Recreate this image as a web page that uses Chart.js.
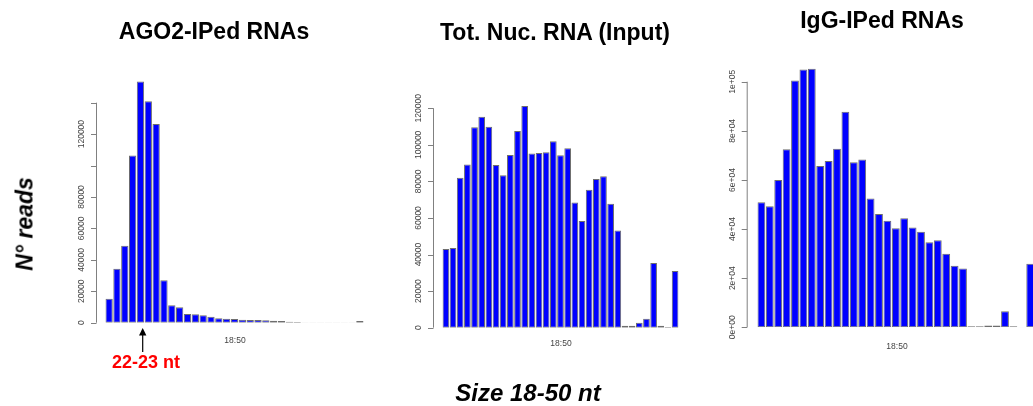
<!DOCTYPE html>
<html>
<head>
<meta charset="utf-8">
<script src="https://cdn.jsdelivr.net/npm/chart.js@4/dist/chart.umd.min.js"></script>
<style>
  html, body { margin: 0; padding: 0; background: #fff; overflow: hidden; width: 1033px; height: 406px; }
  canvas { position: absolute; left: 0; top: 0; }
  .txt { position: absolute; font-family: "Liberation Sans", Arial, sans-serif; line-height: 1; white-space: nowrap; }
  .title { font-size: 23px; font-weight: bold; color: #000; transform: translateX(-50%); }
  .xlab { font-size: 8.5px; color: #444; transform: translate(-50%, -50%); }
</style>
</head>
<body>
<canvas id="ago2Chart" width="1040" height="406"></canvas>
<canvas id="totChart" width="1040" height="406"></canvas>
<canvas id="iggChart" width="1040" height="406"></canvas>

<div class="txt title" style="left:214px; top:20px;">AGO2-IPed RNAs</div>
<div class="txt title" style="left:555px; top:20.5px;">Tot. Nuc. RNA (Input)</div>
<div class="txt title" style="left:882px; top:9px;">IgG-IPed RNAs</div>

<div class="txt xlab" style="left:235px; top:340px;">18:50</div>
<div class="txt xlab" style="left:561px; top:343px;">18:50</div>
<div class="txt xlab" style="left:897px; top:346px;">18:50</div>

<div class="txt" style="left:25px; top:224px; font-size:23px; font-weight:bold; font-style:italic; transform:translate(-50%,-50%) rotate(-90deg);">N° reads</div>
<div class="txt" style="left:528px; top:381px; font-size:24px; font-weight:bold; font-style:italic; transform:translateX(-50%);">Size 18-50 nt</div>
<div class="txt" style="left:146px; top:353px; font-size:18px; font-weight:bold; color:#ff0000; transform:translateX(-50%);">22-23 nt</div>

<svg style="position:absolute; left:0; top:0;" width="1033" height="406">
  <line x1="142.7" y1="334" x2="142.7" y2="352" stroke="#000" stroke-width="1.2"/>
  <polygon points="139,335.5 146.4,335.5 142.7,328" fill="#000"/>
</svg>

<script>
// read lengths 18..50 nt
const sizes = ['18','19','20','21','22','23','24','25','26','27','28','29','30','31','32','33','34',
               '35','36','37','38','39','40','41','42','43','44','45','46','47','48','49','50'];

const ago2Reads = [15300, 34300, 48900, 106400, 153400, 140900, 126400, 27000, 11100, 9800, 5500,
                   5300, 4700, 3800, 2800, 2500, 2300, 1900, 1700, 1700, 1500, 1300, 1100, 600,
                   400, 200, 200, 200, 200, 200, 200, 200, 1100];
const totReads = [43000, 43600, 82000, 89300, 109600, 115400, 109900, 89000, 83300, 94400, 107600,
                  121200, 95200, 95500, 95900, 101900, 94300, 98100, 68400, 58300, 75500, 81300,
                  82800, 67800, 53200, 1100, 1100, 2700, 4900, 35400, 1100, 400, 31000];
const iggReads = [50900, 49300, 60000, 72500, 100500, 105000, 105300, 65700, 67700, 72700, 87800,
                  67200, 68300, 52500, 46100, 43400, 40300, 44400, 40600, 38900, 34600, 35400,
                  30000, 25100, 23900, 400, 400, 700, 700, 6500, 400, 100, 25900];

// y axis ticks (R style) - empty label = tick mark only
const ago2Ticks = [0, 20000, 40000, 60000, 80000, 100000, 120000, 140000];
const ago2TickLabels = ['0', '20000', '40000', '60000', '80000', '', '120000', ''];
const totTicks = [0, 20000, 40000, 60000, 80000, 100000, 120000];
const totTickLabels = ['0', '20000', '40000', '60000', '80000', '100000', '120000'];
const iggTicks = [0, 20000, 40000, 60000, 80000, 100000];
const iggTickLabels = ['0e+00', '2e+04', '4e+04', '6e+04', '8e+04', '1e+05'];

// draws an R-like y axis: line only between first and last tick, detached from the bars
const rAxis = {
    id: 'rAxis',
    afterDraw(chart, args, opts) {
        const y = chart.scales.y;
        const ctx = chart.ctx;
        const x = chart.chartArea.left - opts.gap;
        ctx.save();
        ctx.strokeStyle = '#808080';
        ctx.lineWidth = 1;
        ctx.beginPath();
        ctx.moveTo(x + 0.5, y.getPixelForValue(opts.ticks[0]));
        ctx.lineTo(x + 0.5, y.getPixelForValue(opts.ticks[opts.ticks.length - 1]));
        opts.ticks.forEach(function (t) {
            const py = Math.round(y.getPixelForValue(t)) + 0.5;
            ctx.moveTo(x - 5, py);
            ctx.lineTo(x + 0.5, py);
        });
        ctx.stroke();
        ctx.fillStyle = '#444';
        ctx.font = '8.5px "Liberation Sans", Arial, sans-serif';
        ctx.textAlign = 'center';
        ctx.textBaseline = 'middle';
        opts.ticks.forEach(function (t, i) {
            if (!opts.labels[i]) return;
            ctx.save();
            ctx.translate(x - 14, y.getPixelForValue(t));
            ctx.rotate(-Math.PI / 2);
            ctx.fillText(opts.labels[i], 0, 0);
            ctx.restore();
        });
        ctx.restore();
    }
};

function makeChart(id, values, yMax, padding, ticks, labels, gap) {
    const ctx = document.getElementById(id).getContext('2d');
    return new Chart(ctx, {
        type: 'bar',
        data: {
            labels: sizes,
            datasets: [{
                data: values,
                backgroundColor: '#0000ff',
                borderColor: '#6e6e6e',
                borderWidth: 1,
                borderSkipped: false,
                barPercentage: 0.93,
                categoryPercentage: 1
            }]
        },
        options: {
            responsive: false,
            animation: false,
            devicePixelRatio: 1,
            layout: { padding: padding },
            plugins: {
                legend: { display: false },
                tooltip: { enabled: false },
                rAxis: { ticks: ticks, labels: labels, gap: gap }
            },
            scales: {
                x: { display: false },
                y: { display: false, min: 0, max: yMax }
            }
        },
        plugins: [rAxis]
    });
}

makeChart('ago2Chart', ago2Reads, 155000, { left: 105.2, right: 676.2, top: 79.1, bottom: 83.3 }, ago2Ticks, ago2TickLabels, 9.2);
makeChart('totChart', totReads, 122000, { left: 442.3, right: 361.3, top: 104.6, bottom: 78.3 }, totTicks, totTickLabels, 9.3);
makeChart('iggChart', iggReads, 106000, { left: 757.2, right: 5.6, top: 67.0, bottom: 78.7 }, iggTicks, iggTickLabels, 10.5);
</script>
</body>
</html>
